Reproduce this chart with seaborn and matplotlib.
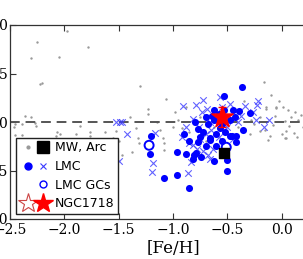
import matplotlib
matplotlib.use("Agg")
import matplotlib.pyplot as plt
import seaborn as sns
import pandas as pd
from matplotlib.lines import Line2D
from matplotlib.legend_handler import HandlerTuple

# Milky Way field stars (grey dots)
mw_feh = [-2.31, -2.25, -2.22, -2.21, -2.05, -1.98, -1.78, -1.30, -1.23, -1.23,
          -1.40, -1.34, -1.86, -2.26, -2.31, -2.36, -2.46, -2.45, -2.39, -2.27,
          -2.45, -2.39, -2.07, -2.04, -2.08, -1.89, -1.76, -1.76, -1.63, -1.52,
          -1.55, -1.50, -1.47, -1.38, -1.32, -1.31, -1.06, -0.16, -0.14, -0.05,
          -1.09, -0.92, -1.08, -1.08,
          -0.14, -0.05, 0.01, 0.06, -0.06, 0.09, 0.03, -0.29, -0.20, -0.11,
          0.00, 0.04, 0.04, -0.13, 0.03, 0.11, -0.25, 0.15, 0.12, -0.20,
          -0.08, 0.07, -0.02, -0.10, 0.18, 0.20, -0.35, -0.28, -0.15, 0.14,
          -0.95, -1.00, -0.85, -0.75, -0.62, -0.70, -0.40, -0.45, -0.98, -1.15,
          -1.12, -0.88]
mw_val = [0.66, 0.82, 0.39, 0.40, 0.67, 0.94, 0.77, 0.37, 0.13, 0.08,
          0.05, -0.06, -0.04, -0.04, 0.05, 0.06, -0.05, -0.02, -0.02, -0.01,
          -0.13, -0.13, -0.10, -0.12, -0.14, -0.12, -0.14, -0.10, -0.10, -0.09,
          -0.17, -0.20, -0.34, -0.31, -0.17, -0.22, 0.24, 0.41, 0.13, 0.15,
          -0.16, -0.06, -0.22, -0.29,
          0.15, 0.14, 0.15, 0.12, 0.06, 0.05, 0.01, -0.12, -0.09, -0.14,
          -0.12, -0.09, -0.17, -0.19, -0.16, -0.11, -0.02, 0.02, 0.10, 0.05,
          -0.03, -0.04, 0.22, 0.28, 0.07, -0.05, 0.22, 0.02, -0.08, -0.15,
          0.02, -0.05, -0.10, 0.05, -0.05, -0.20, -0.05, 0.08, 0.10, 0.00,
          -0.08, 0.15]

# LMC stars, sample 1 (filled circles)
lmc_feh = [-0.365, -0.53, -0.45, -0.39, -0.29, -0.36, -0.46, -0.42, -1.20, -1.21,
           -1.08, -0.96, -0.85, -0.96, -0.88, -0.82, -0.81, -0.74, -0.62, -0.79,
           -0.77, -0.66, -0.50, -0.50, -0.42, -0.48, -0.77, -0.66,
           -0.72, -0.68, -0.62, -0.60, -0.57, -0.55, -0.58, -0.64, -0.70, -0.75,
           -0.52, -0.48, -0.43, -0.55, -0.60, -0.85, -0.90, -0.53, -0.62, -0.70,
           -0.80]
lmc_val = [0.36, 0.27, 0.12, 0.11, 0.09, -0.08, -0.14, -0.14, -0.14, -0.33,
           -0.58, -0.55, -0.68, -0.31, -0.33, -0.38, -0.34, -0.36, -0.40, -0.32,
           -0.21, -0.19, -0.50, -0.39, -0.21, -0.14, -0.07, -0.17,
           -0.10, -0.02, 0.02, -0.12, -0.06, -0.20, 0.08, 0.06, -0.25, -0.15,
           -0.10, 0.02, 0.05, -0.02, -0.25, -0.20, -0.12, 0.12, 0.12, 0.05,
           0.00]

# LMC stars, sample 2 (crosses)
lmcx_feh = [-1.52, -1.49, -1.47, -1.42, -1.50, -0.91, -0.79, -0.72, -0.69, -1.17,
            -0.57, -0.48, -0.22, -0.23, -0.34, -0.26, -0.37, -0.16, -0.12, -0.24,
            -1.18, -1.19, -0.86, -0.68, -0.66, -0.85, -0.82, -0.83,
            -0.88, -0.82, -0.76, -0.70, -0.73, -0.65, -0.60, -0.58, -0.63, -0.78,
            -0.72, -0.50, -0.45, -0.40, -0.66, -0.92, -0.55, -0.75]
lmcx_val = [0.00, 0.00, 0.00, -0.12, -0.40, 0.17, 0.18, 0.23, 0.13, -0.11,
            0.26, 0.19, 0.22, 0.18, 0.16, 0.10, 0.06, -0.05, 0.02, 0.02,
            -0.42, -0.52, -0.53, -0.34, -0.38, -0.22, -0.24, -0.41,
            -0.05, 0.03, -0.05, -0.12, 0.10, -0.08, 0.05, -0.15, -0.28, -0.28,
            -0.30, -0.05, -0.18, 0.00, 0.00, -0.15, 0.15, -0.18]

# LMC globular clusters
gc_feh = [-1.22, -0.51]
gc_val = [-0.24, -0.26]

# Arches
arc_feh = [-0.53]
arc_val = [-0.32]

# NGC1718
ngc_feh = [-0.55]
ngc_val = [0.05]
ngc_err = [0.10]

fig = plt.figure(figsize=(3.03, 2.59), dpi=100)
ax = fig.add_axes([10 / 303, 40 / 259, 326 / 303, 194 / 259])

sns.scatterplot(x=mw_feh, y=mw_val, ax=ax, color="#999999", s=3,
                linewidth=0, zorder=2)
sns.scatterplot(x=lmcx_feh, y=lmcx_val, ax=ax, marker="x", color="#3a3aff",
                s=22, linewidth=0.8, alpha=0.8, zorder=3)
sns.scatterplot(x=lmc_feh, y=lmc_val, ax=ax, color="#0000ff", s=26,
                linewidth=0, zorder=4)
ax.scatter(gc_feh, gc_val, s=42, facecolors="none", edgecolors="#0000ff",
           linewidths=1.4, zorder=5)
ax.scatter(arc_feh, arc_val, marker="s", s=50, color="black", zorder=6)
ax.axhline(0, color="#555555", ls="--", lw=1.4, dashes=(5, 3), zorder=2.5)
ax.errorbar(ngc_feh, ngc_val, yerr=ngc_err, fmt="none", ecolor="red",
            elinewidth=1.2, capsize=3, zorder=7)
ax.scatter(ngc_feh, ngc_val, marker="*", s=260, color="red", edgecolors="red",
           zorder=8)

ax.set_xlim(-2.5, 0.5)
ax.set_ylim(-1.0, 1.0)
ax.set_xticks([-2.5, -2.0, -1.5, -1.0, -0.5, 0.0])
ax.set_yticks([-1.0, -0.5, 0.0, 0.5, 1.0])
ax.tick_params(direction="in", top=True, right=True, length=4, width=0.8,
               color="#333333")
ax.tick_params(axis="x", pad=3)
ax.tick_params(axis="y", pad=1.5)
for lab in ax.get_xticklabels() + ax.get_yticklabels():
    lab.set_family("DejaVu Serif")
    lab.set_fontsize(10)
for sp in ax.spines.values():
    sp.set_color("#333333")
    sp.set_linewidth(0.9)
ax.set_xlabel("[Fe/H]", family="DejaVu Serif", fontsize=12, labelpad=2)

h_mw = (Line2D([], [], ls="", marker="o", ms=2, color="#999999"),
        Line2D([], [], ls="", marker="s", ms=8, color="black"))
h_lmc = (Line2D([], [], ls="", marker="o", ms=5, color="#0000ff"),
         Line2D([], [], ls="", marker="x", ms=5, mew=0.8, color="#3a3aff"))
h_gc = (Line2D([], [], ls="", marker=""),
        Line2D([], [], ls="", marker="o", ms=5, mfc="none", mec="#0000ff", mew=1))
h_ngc = (Line2D([], [], ls="", marker="*", ms=15, mfc="white", mec="#cc4444", mew=0.8),
         Line2D([], [], ls="", marker="*", ms=15, color="red"))
leg = ax.legend([h_mw, h_lmc, h_gc, h_ngc], ["MW, Arc", "LMC", "LMC GCs", "NGC1718"],
                handler_map={tuple: HandlerTuple(ndivide=None, pad=0)},
                loc="lower left", bbox_to_anchor=(6 / 326, 5 / 194),
                fancybox=False, edgecolor="#222222", framealpha=1,
                prop={"family": "DejaVu Sans", "size": 9},
                handlelength=2.5, handletextpad=0.3, borderpad=0.3,
                labelspacing=0.45, borderaxespad=0)
leg.get_frame().set_linewidth(1.0)

fig.savefig("out.png", dpi=100)
